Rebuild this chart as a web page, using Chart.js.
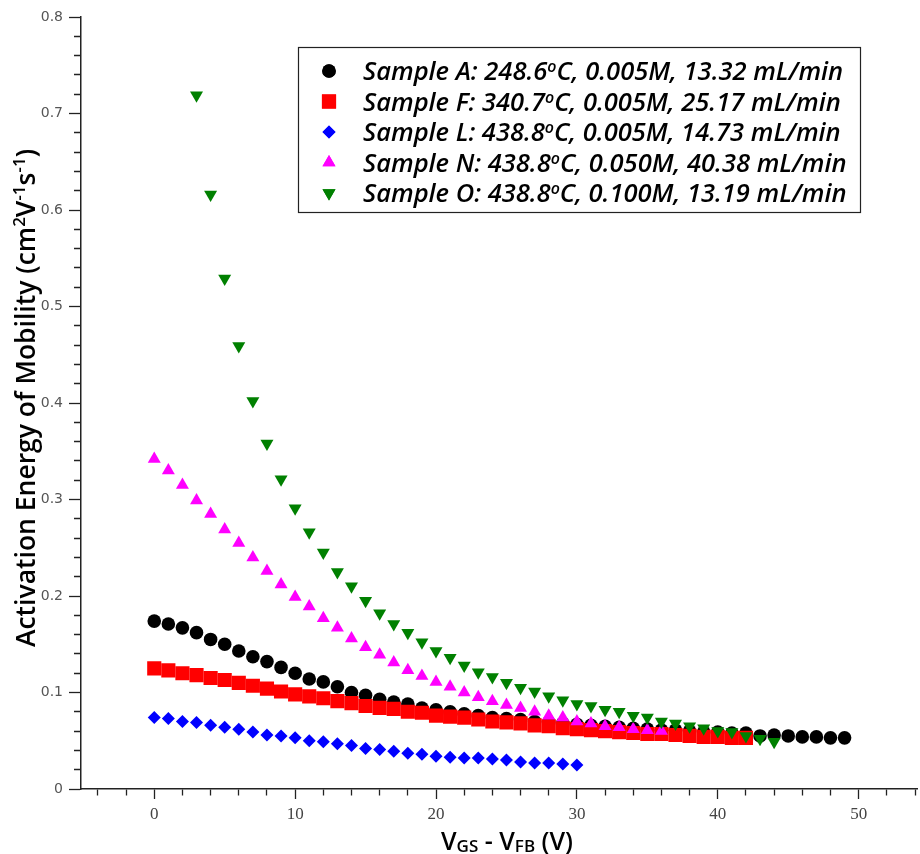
<!DOCTYPE html>
<html>
<head>
<meta charset="utf-8">
<script src="https://cdn.jsdelivr.net/npm/chart.js@4.4.0/dist/chart.umd.min.js"></script>
<style>
  html, body { margin: 0; padding: 0; background: #fff; }
  #wrap { width: 920px; height: 854px; }
</style>
</head>
<body>
<div id="wrap"><canvas id="chart" width="920" height="854"></canvas></div>
<script>
// gate voltage points (V), same for every sample
const vgs = [0, 1, 2, 3, 4, 5, 6, 7, 8, 9, 10, 11, 12, 13, 14, 15, 16, 17, 18, 19,
  20, 21, 22, 23, 24, 25, 26, 27, 28, 29, 30, 31, 32, 33, 34, 35, 36, 37, 38, 39,
  40, 41, 42, 43, 44, 45, 46, 47, 48, 49];

// activation energy values (null = no point)
const sampleA = [0.174, 0.171, 0.167, 0.162, 0.155, 0.150, 0.143, 0.137, 0.132, 0.126,
  0.120, 0.114, 0.111, 0.106, 0.100, 0.097, 0.093, 0.090, 0.088, 0.084,
  0.082, 0.080, 0.078, 0.076, 0.074, 0.073, 0.072, 0.070, 0.069, 0.068,
  0.067, 0.066, 0.065, 0.064, 0.063, 0.062, 0.061, 0.061, 0.060, 0.059,
  0.059, 0.058, 0.058, 0.055, 0.056, 0.055, 0.054, 0.054, 0.053, 0.053];
const sampleF = [0.125, 0.123, 0.120, 0.118, 0.115, 0.113, 0.110, 0.107, 0.104, 0.101,
  0.098, 0.096, 0.094, 0.091, 0.089, 0.086, 0.084, 0.083, 0.080, 0.079,
  0.076, 0.075, 0.074, 0.072, 0.070, 0.069, 0.068, 0.066, 0.065, 0.063,
  0.062, 0.061, 0.060, 0.059, 0.058, 0.057, 0.057, 0.056, 0.055, 0.054,
  0.054, 0.053, 0.053];
const sampleL = [0.074, 0.073, 0.070, 0.069, 0.066, 0.064, 0.062, 0.059, 0.056, 0.055,
  0.053, 0.050, 0.049, 0.047, 0.045, 0.042, 0.041, 0.039, 0.037, 0.036,
  0.034, 0.033, 0.032, 0.032, 0.031, 0.030, 0.028, 0.027, 0.027, 0.026,
  0.025];
const sampleN = [0.342, 0.330, 0.315, 0.299, 0.285, 0.269, 0.255, 0.240, 0.226, 0.212,
  0.199, 0.189, 0.177, 0.167, 0.156, 0.147, 0.139, 0.131, 0.123, 0.117,
  0.111, 0.106, 0.100, 0.095, 0.091, 0.087, 0.084, 0.080, 0.076, 0.074,
  0.070, 0.068, 0.065, 0.064, 0.062, 0.061, 0.060];
const sampleO = [null, null, null, 0.719, 0.616, 0.529, 0.459, 0.402, 0.358, 0.321,
  0.291, 0.266, 0.245, 0.225, 0.210, 0.195, 0.182, 0.171, 0.162, 0.152,
  0.143, 0.136, 0.128, 0.121, 0.116, 0.110, 0.105, 0.101, 0.096, 0.092,
  0.088, 0.086, 0.082, 0.080, 0.076, 0.074, 0.070, 0.068, 0.065, 0.063,
  0.060, 0.059, 0.055, 0.052, 0.049];

// legend text pieces
const sampleNames = ["Sample A", "Sample F", "Sample L", "Sample N", "Sample O"];
const temps = ["248.6", "340.7", "438.8", "438.8", "438.8"];
const molarity = ["0.005M", "0.005M", "0.005M", "0.050M", "0.100M"];
const flowRates = ["13.32", "25.17", "14.73", "40.38", "13.19"];

// tick setup
const xMin = -5.2, xMax = 54.2, xStep = 2, xMajor = 10;
const yMin = 0, yMax = 0.8, yStep = 0.02, yMajor = 0.1;

const colors = ["#000000", "#ff0000", "#0000ff", "#ff00ff", "#008000"];
const series = [sampleA, sampleF, sampleL, sampleN, sampleO];
const markers = [
  { pointStyle: "circle", radius: 6.8, rotation: 0 },
  { pointStyle: "rect", radius: 10, rotation: 0 },
  { pointStyle: "rectRot", radius: 6.5, rotation: 0 },
  { pointStyle: "triangle", radius: 7.5, rotation: 0 },
  { pointStyle: "triangle", radius: 7.5, rotation: 180 },
];

function toPoints(vals) {
  const pts = [];
  vals.forEach(function (v, i) {
    if (v !== null && v !== undefined) pts.push({ x: vgs[i], y: v });
  });
  return pts;
}

const datasets = series.map(function (vals, i) {
  return {
    label: sampleNames[i],
    data: toPoints(vals),
    showLine: false,
    pointStyle: markers[i].pointStyle,
    pointRadius: markers[i].radius,
    pointRotation: markers[i].rotation,
    pointBackgroundColor: colors[i],
    pointBorderWidth: 0,
    backgroundColor: colors[i],
    borderColor: colors[i],
    order: series.length - i, // A at the bottom, O on top
  };
});

function isMultiple(v, step) {
  const r = v / step;
  return Math.abs(r - Math.round(r)) < 1e-6;
}

// text made of normal / sup / sub pieces
function richWidth(ctx, parts, font, smallFont) {
  let w = 0;
  parts.forEach(function (p) {
    ctx.font = p.k ? smallFont : font;
    w += ctx.measureText(p.t).width;
  });
  return w;
}
function drawRich(ctx, parts, x, y, font, smallFont, supShift, subShift) {
  let cx = x;
  ctx.textAlign = "left";
  ctx.textBaseline = "alphabetic";
  parts.forEach(function (p) {
    ctx.font = p.k ? smallFont : font;
    let dy = 0;
    if (p.k === "sup") dy = -supShift;
    if (p.k === "sub") dy = subShift;
    ctx.fillText(p.t, cx, y + dy);
    cx += ctx.measureText(p.t).width;
  });
}

const decorPlugin = {
  id: "decor",
  afterDraw(chart) {
    const ctx = chart.ctx;
    ctx.save();
    ctx.fillStyle = "#000";

    // x axis title
    const xFont = "600 25px 'Open Sans'";
    const xSmall = "600 17px 'Open Sans'";
    const xParts = [{ t: "V" }, { t: "GS", k: "sub" }, { t: " - V" }, { t: "FB", k: "sub" }, { t: " (V)" }];
    const xw = richWidth(ctx, xParts, xFont, xSmall);
    drawRich(ctx, xParts, 507 - xw / 2, 850, xFont, xSmall, 0, 2);

    // y axis title
    const yFont = "600 26.5px 'Open Sans'";
    const ySmall = "600 17px 'Open Sans'";
    const yParts = [{ t: "Activation Energy of Mobility (cm" }, { t: "2", k: "sup" }, { t: "V" },
      { t: "-1", k: "sup" }, { t: "s" }, { t: "-1", k: "sup" }, { t: ")" }];
    const yw = richWidth(ctx, yParts, yFont, ySmall);
    ctx.save();
    ctx.translate(34.5, 398);
    ctx.rotate(-Math.PI / 2);
    drawRich(ctx, yParts, -yw / 2, 0, yFont, ySmall, 10, 0);
    ctx.restore();

    // legend box
    const box = { left: 298.5, top: 47.5, right: 860.5, bottom: 212.5 };
    ctx.lineWidth = 1.2;
    ctx.strokeStyle = "#222";
    ctx.fillStyle = "#fff";
    ctx.fillRect(box.left, box.top, box.right - box.left, box.bottom - box.top);
    ctx.strokeRect(box.left, box.top, box.right - box.left, box.bottom - box.top);

    const legFont = "italic 600 25.5px 'Open Sans'";
    const legSmall = "italic 600 16px 'Open Sans'";
    for (let i = 0; i < sampleNames.length; i++) {
      const cy = 71 + i * 30.5;
      ctx.fillStyle = colors[i];
      Chart.helpers.drawPoint(ctx, {
        pointStyle: markers[i].pointStyle,
        radius: markers[i].radius,
        rotation: markers[i].rotation,
        borderWidth: 0,
      }, 329, cy);
      ctx.fill();
      ctx.fillStyle = "#000";
      const parts = [{ t: sampleNames[i] + ": " + temps[i] }, { t: "o", k: "sup" },
        { t: "C, " + molarity[i] + ", " + flowRates[i] + " mL/min" }];
      drawRich(ctx, parts, 363, cy + 9, legFont, legSmall, 8, 0);
    }
    ctx.restore();
  },
};

new Chart(document.getElementById("chart"), {
  type: "scatter",
  data: { datasets: datasets },
  options: {
    responsive: false,
    animation: false,
    events: [],
    layout: { autoPadding: false, padding: { top: 17, right: 0, left: 0, bottom: 0 } },
    plugins: { legend: { display: false }, tooltip: { enabled: false } },
    scales: {
      x: {
        type: "linear",
        min: xMin,
        max: xMax,
        afterFit(scale) { scale.height = 65; },
        border: { display: true, color: "#222", width: 1.5 },
        grid: {
          drawOnChartArea: false,
          tickLength: 10,
          tickColor: "#222",
          tickWidth: 1.3,
          tickBorderDash: function (ctx) {
            if (!ctx.tick || isMultiple(ctx.tick.value, xMajor)) return [];
            return [6, 100];
          },
        },
        ticks: {
          stepSize: xStep,
          includeBounds: false,
          autoSkip: false,
          maxRotation: 0,
          padding: 5,
          color: "#444",
          font: { family: "'Liberation Sans Narrow'", size: 17 },
          callback: function (v) { return isMultiple(v, xMajor) ? String(Math.round(v)) : ""; },
        },
      },
      y: {
        type: "linear",
        min: yMin,
        max: yMax,
        afterFit(scale) { scale.width = 81; },
        border: { display: true, color: "#222", width: 1.5 },
        grid: {
          drawOnChartArea: false,
          tickLength: 12,
          tickColor: "#222",
          tickWidth: 1.3,
          tickBorderDash: function (ctx) {
            if (!ctx.tick || isMultiple(ctx.tick.value, yMajor)) return [];
            return [0, 5, 7, 100];
          },
        },
        ticks: {
          stepSize: yStep,
          includeBounds: false,
          autoSkip: false,
          padding: 6,
          color: "#555",
          font: { family: "'DejaVu Sans'", size: 14 },
          callback: function (v) {
            return isMultiple(v, yMajor) ? String(Math.round(v * 10) / 10) : "";
          },
        },
      },
    },
  },
  plugins: [decorPlugin],
});
</script>
</body>
</html>
